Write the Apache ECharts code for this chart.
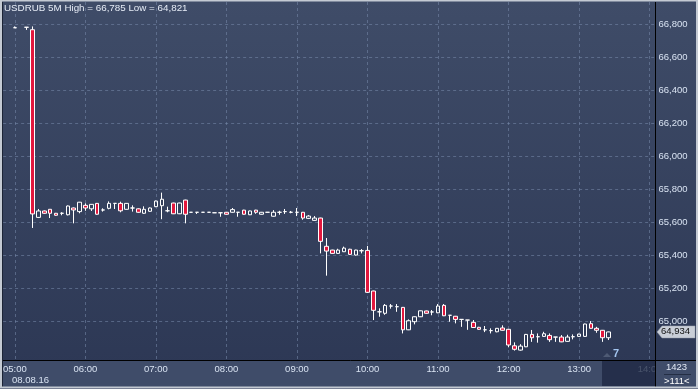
<!DOCTYPE html>
<html><head><meta charset="utf-8">
<script src="https://cdn.jsdelivr.net/npm/echarts@6/dist/echarts.min.js"></script>
<style>html,body{margin:0;padding:0;background:#3a4764;}#c{width:698px;height:389px;}</style>
</head><body><div id="c"></div>
<script>
// ---- data (5-minute bars, USDRUB, 08.08.16) ----
const startTime = '04:50';          // first (empty) category slot
const slotCount = 112;              // 04:50 ... 14:05
const leadEmpty = 2;                // 04:50, 04:55 have no bars
const opens  = [66777,null,66780,66765,65628,65667,65677,65653,65653,65644,65685,65663,65701,65680,65713,65673,65683,65713,65713,65677,65685,65680,65653,65665,65693,65699,65668,65715,65650,65733,65659,65659,65659,65659,65656,65656,65659,65659,65659,65672,65644,65672,65647,65659,65635,65659,65663,65659,65659,65659,65622,65610,65624,65453,65430,65410,65420,65435,65400,65426,65428,65182,65056,65047,65091,65087,65083,64947,64996,65026,65061,65055,65050,65095,65035,65029,65010,65006,64992,64962,64947,64942,64935,64958,64950,64850,64824,64844,64919,64905,64907,64913,64903,64903,64877,64905,64907,64907,64984,64956,64944,64899];
const closes = [66777,null,66780,65649,65667,65653,65653,65641,65653,65697,65673,65720,65685,65707,65647,65673,65713,65713,65668,65713,65685,65659,65677,65685,65727,65738,65668,65650,65715,65647,65659,65659,65659,65659,65656,65656,65647,65675,65659,65647,65667,65659,65659,65659,65659,65659,65663,65659,65659,65624,65636,65624,65483,65424,65410,65430,65442,65404,65430,65426,65174,65065,65056,65095,65091,65087,64947,65002,65026,65062,65047,65055,65091,65032,65035,65010,65010,65006,64961,64950,64947,64942,64956,64944,64855,64829,64848,64919,64899,64905,64923,64887,64903,64874,64903,64905,64921,64982,64956,64944,64899,64934];
const lows   = [66777,null,66764,65564,65624,65650,65624,65638,65641,65640,65592,65653,65668,65667,65645,65663,65677,65679,65659,65675,65663,65656,65650,65662,65690,65617,65659,65648,65648,65592,65659,65649,65659,65659,65656,65632,65645,65657,65632,65645,65642,65650,65645,65659,65633,65644,65649,65653,65636,65614,65618,65608,65410,65275,65408,65408,65418,65400,65397,65410,65170,65006,65026,65038,65075,65056,64925,64945,64980,65024,65045,65035,65048,65030,64996,64986,64965,64947,64958,64947,64933,64925,64932,64942,64841,64821,64821,64842,64874,64869,64905,64874,64874,64872,64875,64889,64905,64905,64954,64929,64874,64885];
const highs  = [66785,null,66780,66785,65679,65670,65677,65655,65659,65700,65688,65722,65713,65709,65715,65683,65725,65713,65723,65715,65701,65683,65695,65688,65730,65778,65693,65717,65717,65735,65659,65659,65659,65659,65656,65656,65661,65685,65659,65674,65669,65674,65661,65659,65672,65668,65679,65667,65685,65661,65642,65636,65626,65503,65432,65438,65451,65438,65432,65436,65455,65184,65077,65103,65103,65103,65085,65010,65028,65064,65063,65067,65103,65103,65035,65031,65010,65006,65006,64965,64970,64956,64958,64974,64952,64871,64860,64922,64946,64925,64935,64925,64903,64915,64917,64919,64923,64984,65000,64965,64946,64936];
const yTicks = [65000,65200,65400,65600,65800,66000,66200,66400,66600,66800];
const yMin = 64761, yMax = 66933;
const titleText = 'USDRUB 5M High = 66,785 Low = 64,821';
const dateText = '08.08.16';
const lastPrice = 64934;

// ---- build ----
const categories = [];
{
  let [h, m] = startTime.split(':').map(Number);
  for (let i = 0; i < slotCount; i++) {
    categories.push(String(h).padStart(2,'0') + ':' + String(m).padStart(2,'0'));
    m += 5; if (m >= 60) { m -= 60; h++; }
  }
}
const ohlc = categories.map((c, i) => {
  const k = i - leadEmpty;
  if (k < 0 || k >= opens.length || opens[k] == null) return '-';
  return [opens[k], closes[k], lows[k], highs[k]];
});
const fmt = v => String(v).replace(/\B(?=(\d{3})+(?!\d))/g, ',');
const isHour = (idx, val) => val.slice(3) === '00' && val >= '05:00';
const FONT = "'Liberation Sans', Arial, sans-serif";
const labelColor = '#d9e3f2';
const gridLineStyle = { color: 'rgba(120,138,172,0.55)', type: [3, 3], width: 1 };

const chart = echarts.init(document.getElementById('c'), null, { renderer: 'canvas' });

const baseGraphic = [
  { type: 'rect', z: -10, shape: { x: 0, y: 0, width: 698, height: 389 },
    style: { fill: new echarts.graphic.LinearGradient(0, 0, 0, 1, [
      { offset: 0, color: '#3f4c68' }, { offset: 1, color: '#2c3754' }]) } },
  { type: 'rect', z: -5, shape: { x: 3, y: 361, width: 695, height: 26 }, style: { fill: '#3f4c69' } },
  // dim box at the right of the time axis
  { type: 'rect', z: 10, shape: { x: 602, y: 361, width: 53, height: 25 }, style: { fill: 'rgba(30,40,66,0.78)' } },
  { type: 'rect', z: 10, shape: { x: 656, y: 361, width: 42, height: 26 }, style: { fill: '#3f4c69' } },
  // axis frame lines
  { type: 'line', z: 20, shape: { x1: 655.5, y1: 2, x2: 655.5, y2: 387 }, style: { stroke: '#000', lineWidth: 1 } },
  { type: 'line', z: 20, shape: { x1: 3, y1: 360.5, x2: 698, y2: 360.5 }, style: { stroke: '#000', lineWidth: 1 } },
  { type: 'line', z: 20, shape: { x1: 2.5, y1: 2, x2: 2.5, y2: 387 }, style: { stroke: '#1c2436', lineWidth: 1 } },
  // outer light frame
  { type: 'rect', z: 21, shape: { x: 1, y: 0.5, width: 696, height: 387 }, style: { fill: null, stroke: '#c4cad3', lineWidth: 2 } },
  // texts
  { type: 'text', z: 22, left: 12, top: 375, style: { text: dateText, fill: labelColor, font: '9.5px ' + FONT } },
  { type: 'text', z: 22, left: 666, top: 362, style: { text: '1423', fill: '#e2e9f5', font: '9.5px ' + FONT } },
  { type: 'line', z: 22, shape: { x1: 664, y1: 374.5, x2: 691, y2: 374.5 }, style: { stroke: '#242e44', lineWidth: 1 } },
  { type: 'text', z: 22, left: 664, top: 376, style: { text: '>111<', fill: '#ffffff', font: '9.5px ' + FONT } },
  { type: 'polygon', z: 22, shape: { points: [[603,357],[607,353],[611,357]] }, style: { fill: '#4e5a74' } },
  { type: 'text', z: 22, left: 613, top: 348, style: { text: '7', fill: '#a4c6f0', font: 'bold 11px ' + FONT } }
];

const option = {
  animation: false,
  title: { text: titleText, left: 4, top: 3, padding: 0,
    textStyle: { color: '#e6ecf6', fontSize: 9.8, fontWeight: 'normal', fontFamily: FONT } },
  grid: { left: 2.5, top: 2, width: 653, height: 358.5, containLabel: false },
  xAxis: {
    type: 'category', data: categories, boundaryGap: false,
    axisLine: { show: false }, axisTick: { show: false },
    axisLabel: { interval: isHour, color: labelColor, fontSize: 9.5, fontFamily: FONT, margin: 4 },
    splitLine: { show: true, interval: isHour, lineStyle: gridLineStyle }
  },
  yAxis: {
    type: 'value', position: 'right', min: yMin, max: yMax, scale: true,
    axisLine: { show: false },
    axisTick: { show: false, customValues: yTicks },
    axisLabel: { customValues: yTicks, color: labelColor, fontSize: 9.5, fontFamily: FONT, margin: 3,
      formatter: v => fmt(v) },
    splitLine: { show: true, lineStyle: gridLineStyle }
  },
  series: [{
    type: 'candlestick', data: ohlc, barWidth: 4,
    itemStyle: { color: 'rgba(0,0,0,0)', color0: '#e2173d', borderColor: '#ffffff', borderColor0: '#ffffff',
      borderColorDoji: '#ffffff', borderWidth: 1 }
  }],
  graphic: baseGraphic
};
chart.setOption(option);

const py = chart.convertToPixel({ yAxisIndex: 0 }, lastPrice);
option.graphic = baseGraphic.concat([
  { type: 'polygon', z: 23, shape: { points: [[657, py], [662, py - 6], [695, py - 6], [695, py + 6], [662, py + 6]] },
    style: { fill: '#c9ced7', stroke: '#9aa2ae', lineWidth: 0.5 } },
  { type: 'text', z: 24, left: 661, top: py - 5.5, style: { text: fmt(lastPrice), fill: '#111', font: '9.5px ' + FONT } }
]);
chart.setOption(option, true);
</script></body></html>
